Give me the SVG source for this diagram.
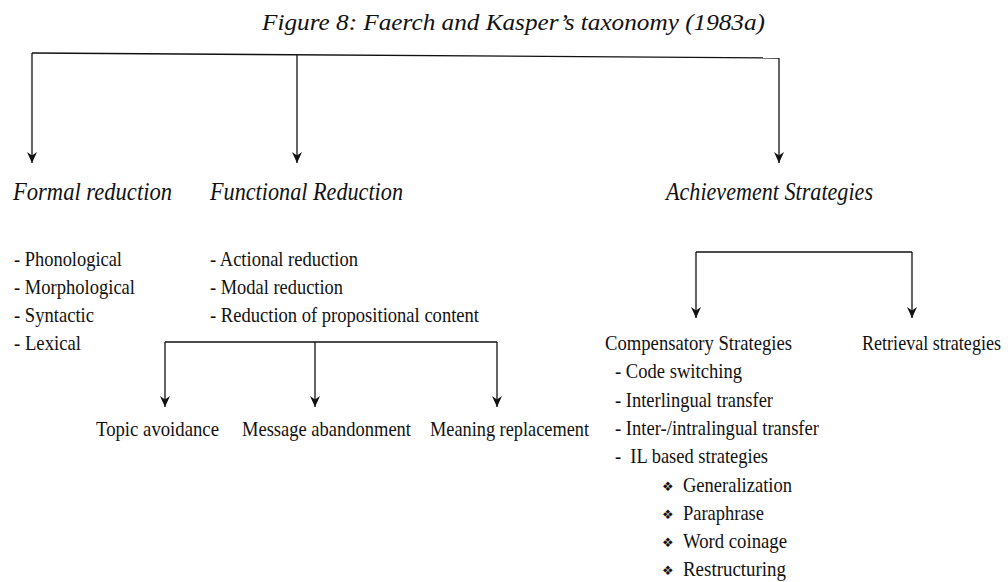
<svg xmlns="http://www.w3.org/2000/svg" width="1008" height="582" viewBox="0 0 1008 582">
<style>
.t{font-size:23px;font-style:italic;}
.h{font-size:26px;font-style:italic;}
.b{font-size:22px;}
.bul{font-size:13px;}
.c{fill:none;stroke:#111;stroke-width:1.3;}
</style>
<defs>
<marker id="ah" markerUnits="userSpaceOnUse" markerWidth="12" markerHeight="10" viewBox="0 0 12 10" refX="11" refY="5" orient="auto">
<path d="M0,0 L11,5 L0,10 L3.5,5 Z" fill="#111"/>
</marker>
</defs>
<rect width="1008" height="582" fill="#fff"/>
<g font-family="Liberation Serif, serif" fill="#111">
<text class="t" x="262" y="30" textLength="503" lengthAdjust="spacingAndGlyphs">Figure 8: Faerch and Kasper’s taxonomy (1983a)</text>
</g>
<g id="connectors">
<path class="c" d="M32,53 L779,58"/>
<path class="c" d="M32,53 L32,163" marker-end="url(#ah)"/>
<path class="c" d="M297,54.8 L297,163" marker-end="url(#ah)"/>
<path class="c" d="M779,58 L779,163" marker-end="url(#ah)"/>
<path class="c" d="M165,342 L497,342"/>
<path class="c" d="M165,342 L165,407" marker-end="url(#ah)"/>
<path class="c" d="M315,342 L315,407" marker-end="url(#ah)"/>
<path class="c" d="M497,342 L497,407" marker-end="url(#ah)"/>
<path class="c" d="M696,252 L912,252"/>
<path class="c" d="M696,252 L696,318" marker-end="url(#ah)"/>
<path class="c" d="M912,252 L912,318" marker-end="url(#ah)"/>
</g>
<g font-family="Liberation Serif, serif" fill="#111">
<g id="formal">
<text class="h" x="13" y="200" textLength="159" lengthAdjust="spacingAndGlyphs">Formal reduction</text>
<text class="b" x="14" y="266" textLength="108" lengthAdjust="spacingAndGlyphs">- Phonological</text>
<text class="b" x="14" y="294" textLength="121" lengthAdjust="spacingAndGlyphs">- Morphological</text>
<text class="b" x="14" y="322" textLength="80" lengthAdjust="spacingAndGlyphs">- Syntactic</text>
<text class="b" x="14" y="350" textLength="67" lengthAdjust="spacingAndGlyphs">- Lexical</text>
</g>
<g id="functional">
<text class="h" x="210" y="200" textLength="193" lengthAdjust="spacingAndGlyphs">Functional Reduction</text>
<text class="b" x="210" y="266" textLength="148" lengthAdjust="spacingAndGlyphs">- Actional reduction</text>
<text class="b" x="210" y="294" textLength="133" lengthAdjust="spacingAndGlyphs">- Modal reduction</text>
<text class="b" x="210" y="322" textLength="269" lengthAdjust="spacingAndGlyphs">- Reduction of propositional content</text>
</g>
<g id="topic">
<text class="b" x="96" y="436" textLength="123" lengthAdjust="spacingAndGlyphs">Topic avoidance</text>
</g>
<g id="message">
<text class="b" x="242" y="436" textLength="169" lengthAdjust="spacingAndGlyphs">Message abandonment</text>
</g>
<g id="meaning">
<text class="b" x="430" y="436" textLength="159" lengthAdjust="spacingAndGlyphs">Meaning replacement</text>
</g>
<g id="achievement">
<text class="h" x="666" y="200" textLength="207" lengthAdjust="spacingAndGlyphs">Achievement Strategies</text>
</g>
<g id="compensatory">
<text class="b" x="605" y="350" textLength="187" lengthAdjust="spacingAndGlyphs">Compensatory Strategies</text>
<text class="b" x="615" y="378" textLength="127" lengthAdjust="spacingAndGlyphs">- Code switching</text>
<text class="b" x="615" y="407" textLength="158" lengthAdjust="spacingAndGlyphs">- Interlingual transfer</text>
<text class="b" x="615" y="435" textLength="204" lengthAdjust="spacingAndGlyphs">- Inter-/intralingual transfer</text>
<text class="b" x="615" y="463" textLength="153" lengthAdjust="spacingAndGlyphs" xml:space="preserve">-  IL based strategies</text>
<text class="bul" x="662" y="491" font-family="DejaVu Sans, sans-serif">❖</text>
<text class="b" x="683" y="492" textLength="109" lengthAdjust="spacingAndGlyphs">Generalization</text>
<text class="bul" x="662" y="519" font-family="DejaVu Sans, sans-serif">❖</text>
<text class="b" x="683" y="520" textLength="81" lengthAdjust="spacingAndGlyphs">Paraphrase</text>
<text class="bul" x="662" y="547" font-family="DejaVu Sans, sans-serif">❖</text>
<text class="b" x="683" y="548" textLength="104" lengthAdjust="spacingAndGlyphs">Word coinage</text>
<text class="bul" x="662" y="575" font-family="DejaVu Sans, sans-serif">❖</text>
<text class="b" x="683" y="576" textLength="103" lengthAdjust="spacingAndGlyphs">Restructuring</text>
</g>
<g id="retrieval">
<text class="b" x="862" y="350" textLength="139" lengthAdjust="spacingAndGlyphs">Retrieval strategies</text>
</g>
</g>
</svg>
